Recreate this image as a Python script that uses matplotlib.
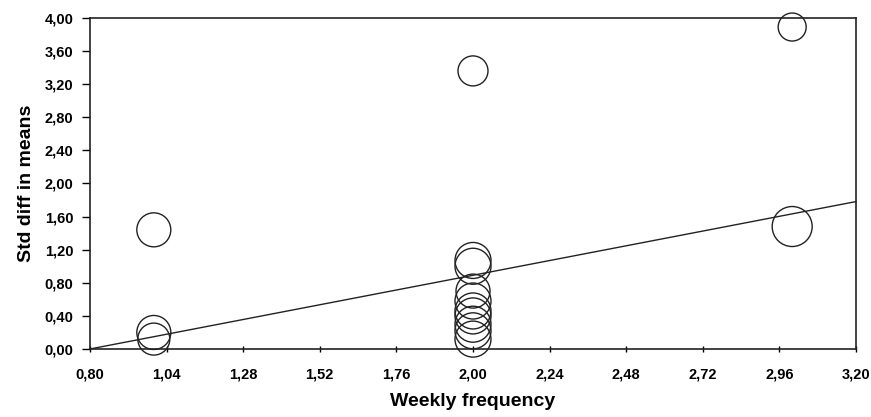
import matplotlib
matplotlib.use("Agg")
import matplotlib.pyplot as plt
import numpy as np
from matplotlib import font_manager

names = {f.name for f in font_manager.fontManager.ttflist}
fam = ['Liberation Sans Narrow'] if 'Liberation Sans Narrow' in names else ['Liberation Sans']
plt.rcParams['font.family'] = fam + ['DejaVu Sans']

# data
freq = [1.0, 1.0, 1.0, 2.0, 2.0, 2.0, 2.0, 2.0, 2.0, 2.0, 2.0, 2.0, 2.0, 3.0, 3.0]
smd = [1.44, 0.20, 0.12, 3.36, 1.07, 1.00, 0.70, 0.58, 0.46, 0.40, 0.30, 0.22, 0.12, 3.89, 1.48]
radius_px = [17, 17, 16, 15, 18, 18, 17, 18, 18, 18, 18, 18, 18, 14, 20]
reg_intercept = -0.593
reg_slope = 0.742
xticks = [0.80, 1.04, 1.28, 1.52, 1.76, 2.00, 2.24, 2.48, 2.72, 2.96, 3.20]
yticks = [0.00, 0.40, 0.80, 1.20, 1.60, 2.00, 2.40, 2.80, 3.20, 3.60, 4.00]

fig = plt.figure(figsize=(8.71, 4.17), dpi=100)
ax = fig.add_axes([0.1033, 0.163, 0.8795, 0.794])

sizes = [(2 * r * 0.72) ** 2 for r in radius_px]
ax.scatter(freq, smd, s=sizes, facecolors='none', edgecolors='#222222', linewidths=1.0, clip_on=False, zorder=3)

xl = np.array([xticks[0], xticks[-1]])
ax.plot(xl, reg_intercept + reg_slope * xl, color='#222222', lw=1.0, clip_on=False, zorder=2)

ax.set_xlim(xticks[0], xticks[-1])
ax.set_ylim(yticks[0], yticks[-1])
ax.set_xticks(xticks)
ax.set_yticks(yticks)
ax.set_xticklabels([f"{v:.2f}".replace('.', ',') for v in xticks], fontsize=10.5, fontweight='bold')
ax.set_yticklabels([f"{v:.2f}".replace('.', ',') for v in yticks], fontsize=10.5, fontweight='bold')
ax.tick_params(axis='x', direction='inout', length=5, width=1, pad=11)
ax.tick_params(axis='y', direction='out', length=6, width=1, pad=6)
for sp in ax.spines.values():
    sp.set_linewidth(1.2)
    sp.set_color('#222222')
ax.set_xlabel('Weekly frequency', fontsize=14, fontweight='bold', labelpad=8)
ax.set_ylabel('Std diff in means', fontsize=14, fontweight='bold', labelpad=7)

fig.savefig('out.png', dpi=100)
